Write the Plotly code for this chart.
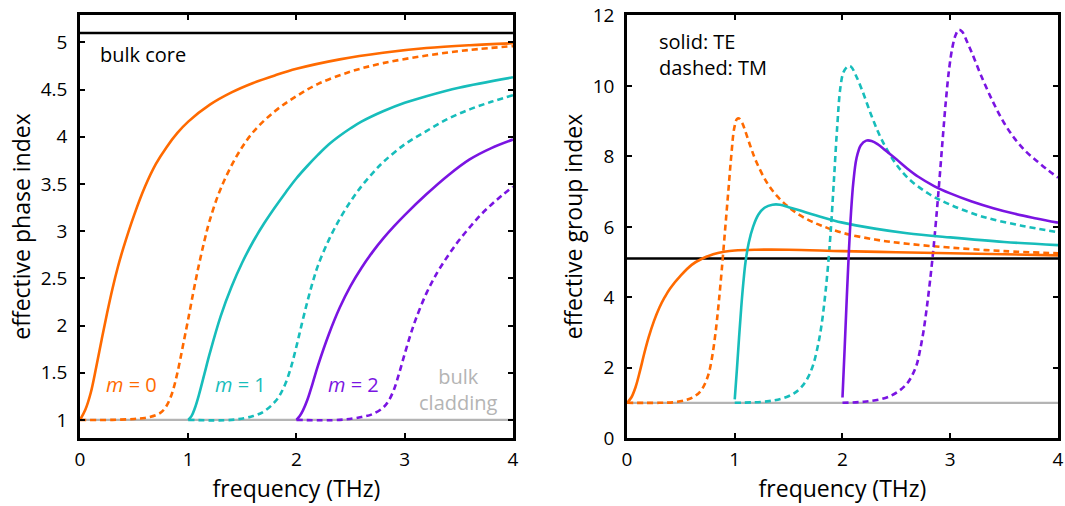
import plotly.graph_objects as go

# ---------------- data ----------------
freq_ends = [0, 4]
bulk_core = [5.1, 5.1]
bulk_clad = [1.0, 1.0]

# left panel: effective phase index
te0_phase_f = [0, 0.05, 0.1, 0.15, 0.2, 0.25, 0.3, 0.35, 0.4, 0.5, 0.6, 0.7, 0.8, 0.9, 1.0, 1.2, 1.4, 1.6, 1.8, 2.0, 2.4, 2.8, 3.2, 3.6, 4.0]
te0_phase_n = [1.0, 1.11, 1.29, 1.56, 1.85, 2.13, 2.39, 2.62, 2.82, 3.17, 3.47, 3.71, 3.89, 4.04, 4.16, 4.34, 4.47, 4.57, 4.65, 4.72, 4.82, 4.89, 4.94, 4.97, 4.99]

tm0_phase_f = [0, 0.3, 0.5, 0.6, 0.7, 0.75, 0.8, 0.85, 0.9, 0.95, 1.0, 1.05, 1.1, 1.15, 1.2, 1.3, 1.45, 1.6, 1.8, 2.0, 2.2, 2.5, 2.8, 3.2, 3.6, 4.0]
tm0_phase_n = [1.0, 1.0, 1.01, 1.02, 1.05, 1.08, 1.15, 1.28, 1.5, 1.78, 2.07, 2.37, 2.65, 2.9, 3.12, 3.45, 3.8, 4.05, 4.27, 4.43, 4.56, 4.69, 4.78, 4.86, 4.92, 4.96]

te1_phase_f = [1.0, 1.03, 1.06, 1.1, 1.15, 1.2, 1.3, 1.4, 1.5, 1.6, 1.7, 1.8, 1.9, 2.0, 2.1, 2.2, 2.3, 2.4, 2.5, 2.6, 2.8, 3.0, 3.2, 3.5, 4.0]
te1_phase_n = [1.0, 1.04, 1.12, 1.27, 1.49, 1.71, 2.1, 2.41, 2.67, 2.89, 3.08, 3.25, 3.41, 3.56, 3.69, 3.81, 3.92, 4.01, 4.09, 4.16, 4.27, 4.36, 4.43, 4.52, 4.63]

tm1_phase_f = [1.0, 1.4, 1.6, 1.7, 1.8, 1.85, 1.9, 1.95, 2.0, 2.05, 2.1, 2.15, 2.2, 2.3, 2.4, 2.5, 2.6, 2.7, 2.8, 3.0, 3.2, 3.4, 3.6, 3.8, 4.0]
tm1_phase_n = [1.0, 1.0, 1.04, 1.09, 1.19, 1.27, 1.39, 1.56, 1.78, 2.02, 2.25, 2.46, 2.64, 2.91, 3.13, 3.315, 3.475, 3.61, 3.73, 3.92, 4.06, 4.19, 4.29, 4.37, 4.44]

te2_phase_f = [2.0, 2.03, 2.06, 2.1, 2.15, 2.2, 2.3, 2.4, 2.5, 2.6, 2.7, 2.8, 2.9, 3.0, 3.2, 3.4, 3.6, 3.8, 4.0]
te2_phase_n = [1.0, 1.04, 1.1, 1.21, 1.39, 1.58, 1.91, 2.19, 2.42, 2.61, 2.775, 2.92, 3.05, 3.17, 3.39, 3.59, 3.76, 3.88, 3.97]

tm2_phase_f = [2.0, 2.4, 2.6, 2.7, 2.8, 2.85, 2.9, 2.95, 3.0, 3.05, 3.1, 3.2, 3.3, 3.4, 3.5, 3.6, 3.7, 3.8, 3.9, 4.0]
tm2_phase_n = [1.0, 1.0, 1.03, 1.06, 1.13, 1.2, 1.32, 1.5, 1.7, 1.89, 2.06, 2.34, 2.56, 2.74, 2.9, 3.04, 3.17, 3.28, 3.38, 3.47]

# right panel: effective group index
te0_group_f = [0, 0.04, 0.08, 0.12, 0.16, 0.2, 0.25, 0.3, 0.35, 0.4, 0.5, 0.6, 0.7, 0.8, 0.9, 1.0, 1.2, 1.5, 2.0, 2.5, 3.0, 3.5, 4.0]
te0_group_v = [1.0, 1.15, 1.45, 1.9, 2.4, 2.85, 3.32, 3.7, 4.0, 4.25, 4.62, 4.92, 5.1, 5.22, 5.29, 5.33, 5.35, 5.35, 5.31, 5.28, 5.25, 5.22, 5.19]

tm0_group_f = [0, 0.3, 0.45, 0.55, 0.62, 0.68, 0.72, 0.76, 0.79, 0.82, 0.85, 0.88, 0.91, 0.94, 0.97, 0.995, 1.02, 1.04, 1.07, 1.1, 1.15, 1.2, 1.3, 1.4, 1.5, 1.6, 1.7, 1.8, 2.0, 2.3, 2.6, 3.0, 3.5, 4.0]
tm0_group_v = [1.0, 1.0, 1.02, 1.08, 1.17, 1.32, 1.52, 1.85, 2.3, 2.95, 3.8, 4.8, 5.9, 7.0, 8.1, 8.8, 9.06, 9.08, 8.95, 8.7, 8.25, 7.85, 7.25, 6.85, 6.56, 6.34, 6.17, 6.04, 5.83, 5.64, 5.52, 5.41, 5.31, 5.25]

te1_group_f = [1.0, 1.02, 1.04, 1.06, 1.08, 1.1, 1.13, 1.17, 1.22, 1.28, 1.35, 1.42, 1.5, 1.6, 1.75, 2.0, 2.3, 2.6, 3.0, 3.5, 4.0]
te1_group_v = [1.1, 1.95, 2.85, 3.7, 4.42, 5.0, 5.55, 6.0, 6.35, 6.55, 6.63, 6.63, 6.56, 6.47, 6.33, 6.12, 5.95, 5.82, 5.7, 5.57, 5.48]

tm1_group_f = [1.0, 1.3, 1.45, 1.55, 1.62, 1.68, 1.73, 1.77, 1.8, 1.83, 1.86, 1.89, 1.92, 1.95, 1.98, 2.01, 2.05, 2.08, 2.12, 2.18, 2.27, 2.36, 2.48, 2.61, 2.8, 3.0, 3.3, 3.65, 4.0]
tm1_group_v = [1.0, 1.04, 1.13, 1.27, 1.45, 1.72, 2.1, 2.6, 3.1, 3.8, 4.7, 5.85, 7.3, 8.8, 9.95, 10.4, 10.56, 10.55, 10.33, 9.9, 9.15, 8.5, 7.86, 7.38, 6.94, 6.63, 6.29, 6.04, 5.85]

te2_group_f = [2.0, 2.02, 2.04, 2.06, 2.08, 2.1, 2.13, 2.17, 2.22, 2.27, 2.33, 2.4, 2.5, 2.6, 2.7, 2.85, 3.0, 3.2, 3.4, 3.6, 3.8, 4.0]
te2_group_v = [1.15, 2.55, 4.0, 5.35, 6.45, 7.25, 7.95, 8.32, 8.45, 8.44, 8.34, 8.17, 7.92, 7.66, 7.43, 7.16, 6.95, 6.72, 6.53, 6.37, 6.24, 6.12]

tm2_group_f = [2.0, 2.2, 2.35, 2.45, 2.53, 2.6, 2.65, 2.69, 2.72, 2.75, 2.78, 2.81, 2.84, 2.87, 2.9, 2.93, 2.96, 2.99, 3.02, 3.05, 3.08, 3.11, 3.15, 3.2, 3.3, 3.4, 3.5, 3.6, 3.7, 3.8, 3.9, 4.0]
tm2_group_v = [1.0, 1.03, 1.1, 1.2, 1.35, 1.55, 1.8, 2.1, 2.5, 3.0, 3.65, 4.4, 5.25, 6.25, 7.35, 8.5, 9.6, 10.5, 11.1, 11.45, 11.6, 11.55, 11.3, 10.95, 10.2, 9.53, 8.95, 8.5, 8.15, 7.88, 7.63, 7.4]

x_ticks = [0, 1, 2, 3, 4]
phase_ticks = [1, 1.5, 2, 2.5, 3, 3.5, 4, 4.5, 5]
phase_tick_labels = ["1", "1.5", "2", "2.5", "3", "3.5", "4", "4.5", "5"]
group_ticks = [0, 2, 4, 6, 8, 10, 12]

# ---------------- styling ----------------
ORANGE = "#ff6a00"
CYAN = "#17bdbb"
PURPLE = "#7a14e2"
GRAY = "#b4b4b4"
FONT = "Open Sans"
LW = 2.6
DASH = "6px,4px"

fig = go.Figure()

def add(x, y, color, dash, xa, ya, width=LW, shape="spline"):
    fig.add_trace(go.Scatter(
        x=x, y=y, mode="lines", xaxis=xa, yaxis=ya, showlegend=False,
        hoverinfo="skip",
        line=dict(color=color, width=width, dash=dash, shape=shape, smoothing=1.0)))

# left panel
add(freq_ends, bulk_clad, GRAY, "solid", "x", "y", 2.3, "linear")
add(freq_ends, bulk_core, "black", "solid", "x", "y", 2.4, "linear")
add(tm0_phase_f, tm0_phase_n, ORANGE, DASH, "x", "y")
add(tm1_phase_f, tm1_phase_n, CYAN, DASH, "x", "y")
add(tm2_phase_f, tm2_phase_n, PURPLE, DASH, "x", "y")
add(te0_phase_f, te0_phase_n, ORANGE, "solid", "x", "y")
add(te1_phase_f, te1_phase_n, CYAN, "solid", "x", "y")
add(te2_phase_f, te2_phase_n, PURPLE, "solid", "x", "y")

# right panel
add(freq_ends, bulk_clad, GRAY, "solid", "x2", "y2", 2.3, "linear")
add(freq_ends, bulk_core, "black", "solid", "x2", "y2", 2.4, "linear")
add(tm0_group_f, tm0_group_v, ORANGE, DASH, "x2", "y2")
add(tm1_group_f, tm1_group_v, CYAN, DASH, "x2", "y2")
add(tm2_group_f, tm2_group_v, PURPLE, DASH, "x2", "y2")
add(te0_group_f, te0_group_v, ORANGE, "solid", "x2", "y2")
add(te1_group_f, te1_group_v, CYAN, "solid", "x2", "y2")
add(te2_group_f, te2_group_v, PURPLE, "solid", "x2", "y2")

axis_common = dict(
    showgrid=False, zeroline=False, showline=True, linecolor="black", linewidth=2.5,
    mirror="ticks", ticks="inside", ticklen=5, tickwidth=2, tickcolor="black",
    tickfont=dict(family=FONT, size=19, color="black"),
    ticklabeloverflow="allow", automargin=False,
)
TITLE_FONT = dict(family=FONT, size=23, color="black")

fig.update_layout(
    width=1065, height=506,
    margin=dict(l=80, r=7, t=15, b=68, autoexpand=False),
    paper_bgcolor="white", plot_bgcolor="white",
    font=dict(family=FONT, color="black"),
    xaxis=dict(domain=[0, 0.4427], range=[0, 4], tickvals=x_ticks,
               title=dict(text="frequency (THz)", font=TITLE_FONT, standoff=4),
               ticklabelstandoff=2, anchor="y", **axis_common),
    yaxis=dict(domain=[0, 1], range=[0.808, 5.29], tickvals=phase_ticks, ticktext=phase_tick_labels,
               title=dict(text="effective phase index", font=TITLE_FONT, standoff=4),
               ticklabelstandoff=6, anchor="x", **axis_common),
    xaxis2=dict(domain=[0.5593, 1], range=[0, 4], tickvals=x_ticks,
                title=dict(text="frequency (THz)", font=TITLE_FONT, standoff=4),
                ticklabelstandoff=2, anchor="y2", **axis_common),
    yaxis2=dict(domain=[0, 1], range=[0, 12.02], tickvals=group_ticks,
                title=dict(text="effective group index", font=TITLE_FONT, standoff=4),
                ticklabelstandoff=6, anchor="x2", **axis_common),
)

ann = []
def note(text, x, y, xref, yref, color="black", size=20, xanchor="left", align="left"):
    ann.append(dict(text=text, x=x, y=y, xref=xref, yref=yref, showarrow=False,
                    xanchor=xanchor, yanchor="middle", align=align,
                    font=dict(family=FONT, size=size, color=color)))

note("bulk core", 0.17, 4.87, "x", "y")
note("<i>m</i> = 0", 0.48, 1.38, "x", "y", ORANGE, xanchor="center")
note("<i>m</i> = 1", 1.48, 1.38, "x", "y", CYAN, xanchor="center")
note("<i>m</i> = 2", 2.53, 1.38, "x", "y", PURPLE, xanchor="center")
note("bulk<br>cladding", 3.5, 1.32, "x", "y", GRAY, xanchor="center", align="center")
note("solid: TE<br>dashed: TM", 0.28, 10.9, "x2", "y2", "black", align="left")
fig.update_layout(annotations=ann)

fig.write_html("out.html")
